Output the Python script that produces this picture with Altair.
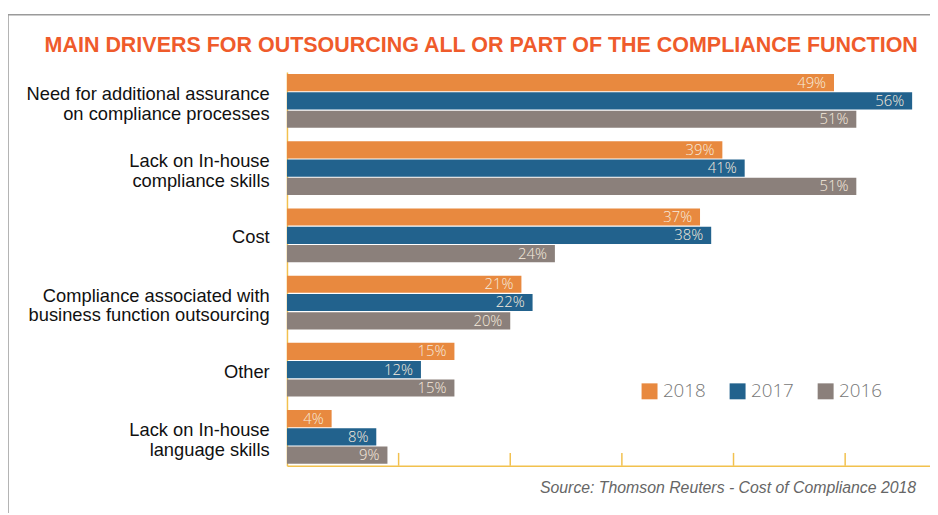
import altair as alt
import pandas as pd

categories = [
    "Need for additional assurance|on compliance processes",
    "Lack on In-house|compliance skills",
    "Cost",
    "Compliance associated with|business function outsourcing",
    "Other",
    "Lack on In-house|language skills",
]
years = ["2018", "2017", "2016"]
v2018 = [49, 39, 37, 21, 15, 4]
v2017 = [56, 41, 38, 22, 12, 8]
v2016 = [51, 51, 24, 20, 15, 9]
colors = ["#E8893F", "#22628D", "#8B807B"]
tick_values = [10, 20, 30, 40, 50]
title_text = "MAIN DRIVERS FOR OUTSOURCING ALL OR PART OF THE COMPLIANCE FUNCTION"
source_text = "Source: Thomson Reuters - Cost of Compliance 2018"

rows = []
for yr, vals in zip(years, [v2018, v2017, v2016]):
    for c, v in zip(categories, vals):
        rows.append({"category": c, "year": yr, "value": v, "label": f"{v}%"})
df = pd.DataFrame(rows)

W, H = 650, 398
xscale = alt.Scale(domain=[0, 57.6], nice=False, zero=True)
yenc = alt.Y(
    "category:N",
    sort=categories,
    scale=alt.Scale(paddingInner=0.2, paddingOuter=0.03),
    axis=alt.Axis(
        title=None,
        labelExpr="split(datum.label, '|')",
        labelFontSize=18.5,
        labelFont="Liberation Sans",
        labelColor="#111111",
        labelLineHeight=20,
        labelPadding=18,
        labelOffset={"condition": {"test": "indexof(datum.label, '|') >= 0", "value": -7}, "value": 2},
        ticks=False,
        domainColor="#F2C14E",
        domainWidth=1.5,
        labelLimit=300,
    ),
)
yoff = alt.YOffset("year:N", sort=years, scale=alt.Scale(paddingInner=0.06))

base = alt.Chart(df)
bars = base.mark_bar().encode(
    x=alt.X(
        "value:Q",
        scale=xscale,
        axis=alt.Axis(title=None, labels=False, ticks=False, grid=False,
                      domainColor="#F2C14E", domainWidth=1.5),
    ),
    y=yenc,
    yOffset=yoff,
    color=alt.Color(
        "year:N",
        sort=years,
        scale=alt.Scale(domain=years, range=colors),
        legend=alt.Legend(
            title=None,
            orient="none",
            legendX=357,
            legendY=313,
            direction="horizontal",
            symbolType="square",
            symbolSize=260,
            symbolStrokeWidth=0,
            labelFontSize=19,
            labelColor="#777777",
            labelFont="Open Sans",
            labelFontWeight=300,
            columnPadding=22,
            symbolOpacity=1,
        ),
    ),
)
texts = base.mark_text(
    align="right", dx=-8, fontSize=15, color="#F6EBDD", font="Open Sans", fontWeight=300
).encode(x=alt.X("value:Q", scale=xscale), y=alt.Y("category:N", sort=categories), yOffset=yoff, text="label:N")

ticks = alt.Chart(pd.DataFrame({"t": tick_values})).mark_rule(
    color="#F2C14E", strokeWidth=1.5
).encode(x=alt.X("t:Q", scale=xscale), y=alt.value(H - 13), y2=alt.value(H))

source = alt.Chart(pd.DataFrame({"s": [source_text]})).mark_text(
    align="right", baseline="middle", fontSize=16, fontStyle="italic",
    color="#666666", font="Liberation Sans"
).encode(x=alt.value(636), y=alt.value(H + 23), text="s:N")

title = alt.Chart(pd.DataFrame({"s": [title_text]})).mark_text(
    align="left", baseline="middle", fontSize=21.7, fontWeight="bold",
    color="#EF5B2B", font="Liberation Sans"
).encode(x=alt.value(-245), y=alt.value(-27), text="s:N")

frame_top = alt.Chart(pd.DataFrame({"a": [0]})).mark_rule(color="#9A9A9A", strokeWidth=1.5).encode(
    x=alt.value(-282), x2=alt.value(W + 10), y=alt.value(-58)
)
frame_left = alt.Chart(pd.DataFrame({"a": [0]})).mark_rule(color="#9A9A9A", strokeWidth=1.5).encode(
    x=alt.value(-282), y=alt.value(-58), y2=alt.value(H + 60)
)

chart = alt.layer(frame_top, frame_left, bars, texts, ticks, source, title).properties(
    width=W,
    height=H,
    autosize=alt.AutoSizeParams(type="none"),
    padding={"left": 282, "top": 62, "right": 0, "bottom": 45},
).configure_view(stroke=None).resolve_scale(x="shared")

chart.save("out.html", embed_options={"renderer": "svg", "actions": False})
